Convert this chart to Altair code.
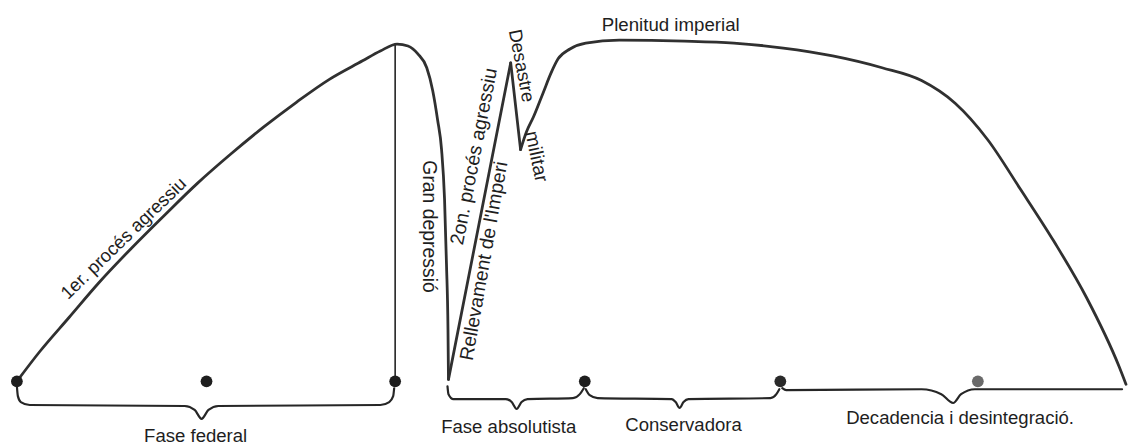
import altair as alt
import pandas as pd

# ---- data (x = time axis, y = level above page foot) ----
# main curve, split where it has sharp corners
seg_a_x = [9, 32, 62, 92, 125, 159, 192, 225, 259, 292, 325, 359, 377, 394, 405, 415, 424, 430, 435, 439, 442, 444, 445.5, 446]
seg_a_y = [63, 93, 128, 163, 198, 232, 264, 293, 321, 346, 369, 388, 398, 405, 403, 395, 381, 358, 328, 298, 248, 181, 115, 65]
seg_b_x = [446, 509]
seg_b_y = [65, 386]
seg_c_x = [509, 519]
seg_c_y = [386, 298]
seg_d_x = [519, 525, 532, 542, 550, 557, 569, 585, 619, 685, 735, 785, 835, 885, 925, 959, 992, 1025, 1059, 1092, 1125, 1132]
seg_d_y = [298, 316, 331, 356, 376, 390, 400, 406, 409, 408, 406, 401, 393, 381, 368, 345, 308, 258, 205, 148, 78, 60]

# vertical drop at the end of the federal phase
vline_x = [392, 392]
vline_y = [63, 405]

# phase dots
dot_x = [9, 201, 392, 584, 782, 982]
dot_y = [63, 63, 63, 63, 63, 63]
dot_col = ["#1e1e1e", "#1e1e1e", "#1e1e1e", "#1e1e1e", "#2a2a2a", "#6a6a6a"]

# braces under the phases
br1_x = [9, 10, 13, 22, 179, 189, 196, 203, 213, 377, 386, 390, 391]
br1_y = [58, 48, 42, 39, 38, 34, 25, 34, 38, 39, 42, 48, 56]
br2_x = [445, 446, 451, 504, 510, 515, 520, 526, 572, 579, 583]
br2_y = [58, 50, 45, 45, 42, 35, 42, 45, 46, 50, 56]
br3_x = [585, 589, 597, 672, 676, 680, 684, 689, 772, 778, 781]
br3_y = [55, 49, 46, 45, 42, 36, 42, 45, 46, 50, 55]
br4_x = [784, 788, 925, 945, 957, 965, 979, 1128]
br4_y = [56, 54, 55, 50, 41, 50, 55, 55]

# labels
lab_text = ["1er. procés agressiu", "Gran depressió", "2on. procés agressiu",
            "Rellevament de l'Imperi", "Desastre", "militar", "Plenitud imperial"]
lab_x = [117, 426, 472, 482, 520, 535, 671]
lab_y = [208, 220, 291, 185, 383, 291, 424]
lab_angle = [316, 90, 281, 280, 79, 78, 0]
lab_size = [18.6, 19.5, 19.5, 19.5, 18.6, 19.5, 18.8]

phase_text = ["Fase federal", "Fase absolutista", "Conservadora", "Decadencia i desintegració."]
phase_x = [190, 507, 684, 964]
phase_y = [1, 11, 13, 20]

# ---- build tables ----
rows = []
for name, xs, ys in [("A", seg_a_x, seg_a_y), ("B", seg_b_x, seg_b_y),
                     ("C", seg_c_x, seg_c_y), ("D", seg_d_x, seg_d_y)]:
    for i, (a, b) in enumerate(zip(xs, ys)):
        rows.append({"seg": name, "o": i, "x": a, "y": b})
curve = pd.DataFrame(rows)

brows = []
for name, xs, ys in [("b1", br1_x, br1_y), ("b2", br2_x, br2_y),
                     ("b3", br3_x, br3_y), ("b4", br4_x, br4_y)]:
    for i, (a, b) in enumerate(zip(xs, ys)):
        brows.append({"seg": name, "o": i, "x": a, "y": b})
braces = pd.DataFrame(brows)

vline = pd.DataFrame({"x": vline_x, "y": vline_y, "o": [0, 1]})
dots = pd.DataFrame({"x": dot_x, "y": dot_y, "c": dot_col})
labels = pd.DataFrame({"t": lab_text, "x": lab_x, "y": lab_y, "a": lab_angle, "s": lab_size})
phases = pd.DataFrame({"t": phase_text, "x": phase_x, "y": phase_y})

X = alt.Scale(domain=[0, 1128], nice=False, zero=False)
Y = alt.Scale(domain=[0, 440], nice=False, zero=False)

def xe():
    return alt.X("x:Q", scale=X, axis=None)

def ye():
    return alt.Y("y:Q", scale=Y, axis=None)

FONT = "Liberation Sans"

curve_layer = alt.Chart(curve).mark_line(
    interpolate="monotone", color="#303030", strokeWidth=2.8, strokeCap="round", strokeJoin="round"
).encode(x=xe(), y=ye(), detail="seg:N", order="o:Q")

vline_layer = alt.Chart(vline).mark_line(color="#222222", strokeWidth=1.6).encode(
    x=xe(), y=ye(), order="o:Q")

brace_layer = alt.Chart(braces).mark_line(
    interpolate="monotone", color="#262626", strokeWidth=2.2, strokeCap="round", strokeJoin="round"
).encode(x=xe(), y=ye(), detail="seg:N", order="o:Q")

dot_layer = alt.Chart(dots).mark_circle(size=140, opacity=1).encode(
    x=xe(), y=ye(), color=alt.Color("c:N", scale=None))

label_layer = alt.Chart(labels).mark_text(
    font=FONT, color="#1e1e1e", align="center", baseline="middle"
).encode(x=xe(), y=ye(), text="t:N",
         angle=alt.Angle("a:Q", scale=None), size=alt.Size("s:Q", scale=None))

phase_layer = alt.Chart(phases).mark_text(
    font=FONT, fontSize=18.7, color="#1e1e1e", align="center", baseline="alphabetic"
).encode(x=xe(), y=ye(), text="t:N")

chart = alt.layer(
    vline_layer, curve_layer, brace_layer, dot_layer, label_layer, phase_layer
).properties(
    width=1128, height=440, padding=0,
    autosize=alt.AutoSizeParams(type="fit", contains="padding"),
    background="white",
).configure_view(strokeWidth=0)

chart.save("out.html", embed_options={"renderer": "svg", "actions": False})
